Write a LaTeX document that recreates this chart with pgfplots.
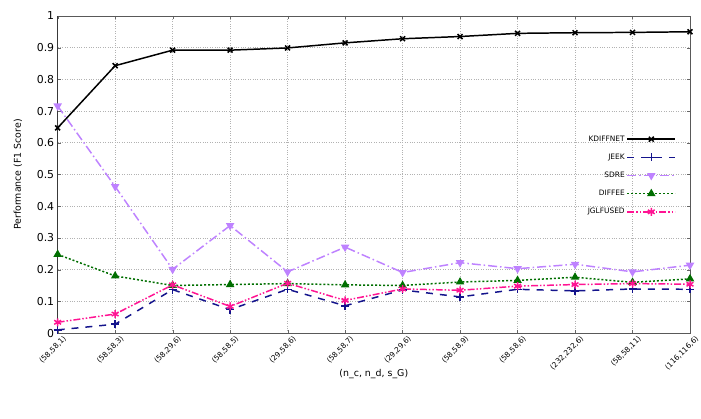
\documentclass[border=0pt]{standalone}
\usepackage{pgfplots}
\pgfplotsset{compat=1.18}
\usepackage{fontspec}
\setmainfont{DejaVu Sans}
\definecolor{cjeek}{RGB}{20,20,140}
\definecolor{csdre}{RGB}{190,130,255}
\definecolor{cdiffee}{RGB}{0,110,0}
\definecolor{cjgl}{RGB}{255,20,147}
\begin{document}
\begin{tikzpicture}[x=1bp,y=1bp]
\begin{axis}[
  scale only axis,
  width=636bp, height=319bp,
  xmin=0, xmax=11, ymin=0, ymax=1,
  xtick={0,...,11},
  xticklabels={(58,58,1),(58,58,3),(58,29,6),(58,58,5),(29,58,6),(58,58,7),(29,29,6),(58,58,9),(58,58,6),(232,232,6),(58,58,11),(116,116,6)},
  ytick={0,0.1,...,1.0},
  yticklabels={0,0.1,0.2,0.3,0.4,0.5,0.6,0.7,0.8,0.9,1},
  x tick label style={rotate=45, anchor=north east, font=\fontsize{7.5}{8}\selectfont, inner sep=1pt, xshift=3bp, yshift=-4bp},
  y tick label style={font=\fontsize{11}{13}\selectfont},
  tick align=inside,
  major tick length=3bp,
  tick style={gray!80!black},
  grid=major,
  major grid style={gray!60, dotted, line width=0.6pt},
  axis line style={gray!70!black, line width=0.8pt},
  xlabel={(n\_c, n\_d, s\_G)},
  ylabel={Performance (F1 Score)},
  xlabel style={font=\fontsize{9.5}{11}\selectfont, at={(axis description cs:0.5,-0.13)}, anchor=center},
  ylabel style={font=\fontsize{9.5}{11}\selectfont, at={(axis description cs:-0.063,0.5)}, anchor=center},
  legend style={draw=none, fill=none, at={(0.978,0.629)}, anchor=north east, font=\fontsize{7.5}{9}\selectfont, row sep=7.3bp, inner sep=0pt},
  legend cell align=right,
  legend plot pos=right,
  legend image code/.code={\draw[mark repeat=2,mark phase=2] plot coordinates {(0bp,0bp) (24bp,0bp) (48bp,0bp)};},
]
\addplot[black, line width=1.5pt, mark=x, mark size=3.5bp, mark options={solid, line width=1.5pt}] coordinates {
(0,0.647) (1,0.843) (2,0.892) (3,0.892) (4,0.899) (5,0.915) (6,0.928) (7,0.935) (8,0.945) (9,0.947) (10,0.948) (11,0.950)};
\addlegendentry{KDIFFNET}
\addplot[cjeek, line width=1.5pt, dash pattern=on 7bp off 7bp, mark=+, mark size=4bp, mark options={solid, line width=1.5pt}] coordinates {
(0,0.010) (1,0.028) (2,0.137) (3,0.074) (4,0.138) (5,0.086) (6,0.136) (7,0.114) (8,0.138) (9,0.133) (10,0.139) (11,0.138)};
\addlegendentry{JEEK}
\addplot[csdre, line width=1.5pt, dash pattern=on 9bp off 3bp on 1.5bp off 3bp, mark=triangle*, mark size=3.5bp, mark options={solid, rotate=180}] coordinates {
(0,0.716) (1,0.462) (2,0.201) (3,0.339) (4,0.193) (5,0.271) (6,0.191) (7,0.222) (8,0.203) (9,0.217) (10,0.193) (11,0.214)};
\addlegendentry{SDRE}
\addplot[cdiffee, line width=1.5pt, dash pattern=on 2bp off 2bp, mark=triangle*, mark size=3.5bp, mark options={solid}] coordinates {
(0,0.248) (1,0.180) (2,0.150) (3,0.153) (4,0.156) (5,0.152) (6,0.150) (7,0.161) (8,0.166) (9,0.176) (10,0.160) (11,0.171)};
\addlegendentry{DIFFEE}
\addplot[cjgl, line width=1.5pt, dash pattern=on 7bp off 2bp on 1.5bp off 2bp on 1.5bp off 2bp, mark=asterisk, mark size=4bp, mark options={solid, line width=1.5pt}] coordinates {
(0,0.034) (1,0.060) (2,0.152) (3,0.084) (4,0.157) (5,0.103) (6,0.139) (7,0.135) (8,0.148) (9,0.153) (10,0.156) (11,0.154)};
\addlegendentry{JGLFUSED}
\draw[black, line width=0.8pt] (rel axis cs:0,0) -- (rel axis cs:0,1);
\end{axis}
\useasboundingbox (-58bp,-86bp) rectangle (643bp,335bp);
\end{tikzpicture}
\end{document}
